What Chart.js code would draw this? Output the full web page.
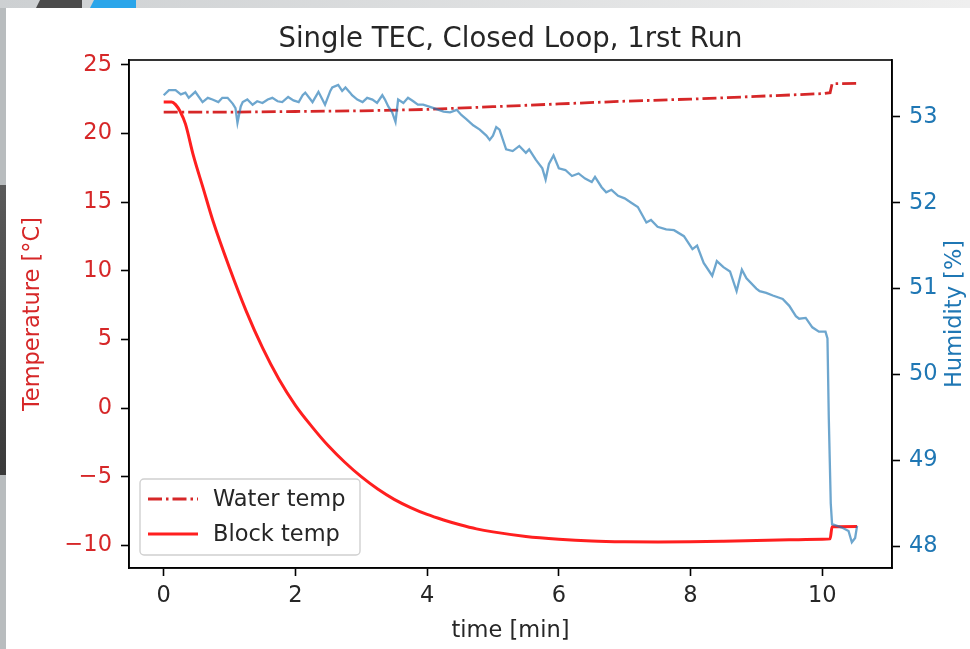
<!DOCTYPE html>
<html><head><meta charset="utf-8">
<script src="https://cdn.jsdelivr.net/npm/chart.js@4.4.0/dist/chart.umd.min.js"></script>
<style>
html,body{margin:0;padding:0;width:970px;height:649px;overflow:hidden;background:#d8dbdd;}
#top{position:absolute;left:0;top:0;width:970px;height:8px;background:linear-gradient(90deg,#cdd0d2,#efefef);}
#dk{position:absolute;left:36px;top:0;width:46px;height:8px;background:#4b4b4b;clip-path:polygon(4px 0,100% 0,100% 100%,0 100%);}
#bl{position:absolute;left:90px;top:0;width:46px;height:8px;background:#2aa5ea;clip-path:polygon(4px 0,100% 0,100% 100%,0 100%);}
#lf{position:absolute;left:0;top:8px;width:6px;height:641px;background:#b8bcbe;}
#ld{position:absolute;left:0;top:185px;width:6px;height:290px;background:linear-gradient(#5a5a5a,#3a3a3a);}
#card{position:absolute;left:6px;top:8px;width:964px;height:641px;background:#fff;}
canvas{position:absolute;left:0;top:0;}
</style></head>
<body>
<div id="top"></div><div id="dk"></div><div id="bl"></div><div id="lf"></div><div id="ld"></div><div id="card"></div>
<canvas id="c" width="970" height="649"></canvas>
<script>
// ---- data ----
const blockTime = [0,0.12,0.18,0.25,0.33,0.45,0.60,0.75,1.00,1.25,1.50,1.75,2.00,2.25,2.50,2.75,3.00,3.25,3.50,3.75,4.00,4.25,4.50,4.75,5.00,5.50,6.00,6.50,7.00,7.50,8.00,8.50,9.00,9.50,10.00,10.12,10.15,10.53];
const blockTemp = [22.3,22.3,22.1,21.6,20.7,18.4,16.0,13.6,10.2,7.1,4.4,2.1,0.2,-1.35,-2.75,-3.95,-5.0,-5.9,-6.65,-7.25,-7.75,-8.15,-8.5,-8.8,-9.02,-9.35,-9.55,-9.68,-9.74,-9.76,-9.74,-9.7,-9.65,-9.6,-9.56,-9.53,-8.65,-8.62];

const waterTime = [0,1,2,3,4,5,6,7,8,9,10,10.12,10.15,10.53];
const waterTemp = [21.55,21.55,21.6,21.65,21.75,21.95,22.15,22.35,22.5,22.7,22.9,22.97,23.62,23.65];

const humTime = [0,0.08,0.18,0.26,0.33,0.38,0.48,0.59,0.67,0.74,0.83,0.89,0.97,1.05,1.09,1.12,1.17,1.20,1.27,1.35,1.42,1.50,1.58,1.65,1.73,1.80,1.89,1.97,2.05,2.11,2.15,2.23,2.26,2.35,2.41,2.45,2.53,2.56,2.65,2.71,2.76,2.83,2.86,2.94,3.02,3.09,3.17,3.24,3.32,3.36,3.41,3.47,3.52,3.56,3.64,3.71,3.79,3.86,3.94,4.02,
 4.10,4.25,4.35,4.45,4.52,4.60,4.70,4.80,4.90,4.95,5.00,5.05,5.10,5.20,5.30,5.40,5.50,5.55,5.65,5.75,5.80,5.85,5.92,6.00,6.10,6.20,6.30,6.40,6.50,6.55,6.65,6.72,6.80,6.90,7.00,7.10,7.20,7.33,7.40,7.50,7.63,7.75,7.90,8.03,8.10,8.20,8.33,8.40,8.50,8.60,8.70,8.78,8.85,9.00,9.05,9.15,9.25,9.40,9.50,9.60,9.65,9.75,9.85,9.95,10.05,10.08,10.10,10.13,10.15,10.30,10.40,10.45,10.50,10.53];
const humidity = [53.25,53.31,53.31,53.26,53.28,53.22,53.29,53.17,53.22,53.20,53.17,53.22,53.22,53.15,53.10,52.93,53.12,53.17,53.20,53.14,53.18,53.16,53.20,53.22,53.18,53.17,53.23,53.19,53.17,53.25,53.28,53.20,53.17,53.29,53.20,53.14,53.30,53.34,53.37,53.30,53.34,53.28,53.25,53.20,53.17,53.22,53.20,53.16,53.25,53.20,53.12,53.05,52.94,53.20,53.16,53.22,53.18,53.14,53.14,53.12,
 53.10,53.06,53.05,53.08,53.02,52.97,52.90,52.85,52.78,52.73,52.78,52.88,52.85,52.62,52.60,52.66,52.58,52.62,52.50,52.40,52.27,52.45,52.55,52.40,52.38,52.31,52.34,52.28,52.24,52.30,52.18,52.12,52.15,52.08,52.05,52.00,51.95,51.77,51.80,51.72,51.69,51.68,51.61,51.46,51.50,51.30,51.15,51.32,51.25,51.20,50.97,51.22,51.12,51.00,50.97,50.95,50.92,50.88,50.80,50.68,50.65,50.66,50.55,50.50,50.50,50.42,49.50,48.50,48.26,48.22,48.18,48.05,48.10,48.24];

const xTicks = [0,2,4,6,8,10];
const tempTicks = [-10,-5,0,5,10,15,20,25];
const humTicks = [48,49,50,51,52,53];

const titleText = 'Single TEC, Closed Loop, 1rst Run';
const leftLabel = 'Temperature [\u00B0C]';
const rightLabel = 'Humidity [%]';

const pts = (xs, ys) => xs.map((x, i) => ({x: x, y: ys[i]}));
const fmt = v => String(v).replace('-', '\u2212');
const FONT = 'DejaVu Sans';
const TEMP_C = '#d62728', HUM_C = '#1f77b4', TXT = '#262626';

const framePlugin = {
  id: 'frame',
  afterDraw(chart) {
    const {ctx, chartArea: a} = chart;
    ctx.save();
    ctx.strokeStyle = '#000';
    ctx.lineWidth = 1.6;
    ctx.strokeRect(a.left, a.top, a.right - a.left, a.bottom - a.top);
    ctx.fillStyle = TXT;
    ctx.font = '27.5px "' + FONT + '"';
    ctx.textAlign = 'center';
    ctx.textBaseline = 'alphabetic';
    ctx.fillText(titleText, (a.left + a.right) / 2, a.top - 13);
    const cy = (a.top + a.bottom) / 2;
    ctx.font = '22.5px "' + FONT + '"';
    ctx.textBaseline = 'middle';
    ctx.save();
    ctx.translate(a.left - 96, cy);
    ctx.rotate(-Math.PI / 2);
    ctx.fillStyle = TEMP_C;
    ctx.fillText(leftLabel, 0, 0);
    ctx.restore();
    ctx.save();
    ctx.translate(a.right + 63, cy);
    ctx.rotate(-Math.PI / 2);
    ctx.fillStyle = HUM_C;
    ctx.fillText(rightLabel, 0, 0);
    ctx.restore();
    ctx.restore();
  }
};

const legendPlugin = {
  id: 'boxLegend',
  afterDraw(chart) {
    const {ctx, chartArea: a} = chart;
    const bx = a.left + 11, bw = 220, bh = 76, by = a.bottom - 13 - bh;
    ctx.save();
    ctx.beginPath();
    ctx.roundRect(bx, by, bw, bh, 4);
    ctx.fillStyle = 'rgba(255,255,255,0.85)';
    ctx.fill();
    ctx.strokeStyle = '#d0d0d0';
    ctx.lineWidth = 1.4;
    ctx.stroke();
    const rows = [
      {ds: chart.data.datasets[0], y: by + 20},
      {ds: chart.data.datasets[1], y: by + 55}
    ];
    rows.forEach(r => {
      ctx.beginPath();
      ctx.setLineDash(r.ds.borderDash || []);
      ctx.strokeStyle = r.ds.borderColor;
      ctx.lineWidth = r.ds.borderWidth;
      ctx.moveTo(bx + 8, r.y);
      ctx.lineTo(bx + 58, r.y);
      ctx.stroke();
      ctx.setLineDash([]);
      ctx.fillStyle = TXT;
      ctx.font = '22.5px "' + FONT + '"';
      ctx.textBaseline = 'middle';
      ctx.fillText(r.ds.label, bx + 73, r.y + 1);
    });
    ctx.restore();
  }
};

new Chart(document.getElementById('c'), {
  type: 'line',
  data: {
    datasets: [
      {label: 'Water temp', data: pts(waterTime, waterTemp), yAxisID: 'y', borderColor: TEMP_C,
       borderDash: [14, 4, 2.5, 4], borderWidth: 2.8, pointRadius: 0, tension: 0, order: 2},
      {label: 'Block temp', data: pts(blockTime, blockTemp), yAxisID: 'y', borderColor: '#ff1f1f',
       borderWidth: 3, pointRadius: 0, cubicInterpolationMode: 'monotone', order: 1},
      {label: 'Humidity', data: pts(humTime, humidity), yAxisID: 'y1', borderColor: 'rgba(31,119,180,0.65)',
       borderWidth: 2.3, pointRadius: 0, tension: 0, order: 0}
    ]
  },
  options: {
    responsive: false,
    animation: false,
    devicePixelRatio: 1,
    layout: {padding: {top: 60}},
    plugins: {
      legend: {display: false},
      tooltip: {enabled: false},
      title: {display: false}
    },
    scales: {
      x: {
        type: 'linear', min: -0.527, max: 11.06,
        afterBuildTicks: s => { s.ticks = xTicks.map(v => ({value: v})); },
        afterFit: s => { s.height = 81; },
        ticks: {color: TXT, font: {family: FONT, size: 22.5}, padding: 7, callback: v => fmt(v), maxRotation: 0, autoSkip: false},
        grid: {drawOnChartArea: false, drawTicks: true, tickLength: 8, tickWidth: 1.6, color: '#000'},
        border: {display: true, color: '#000', width: 1.6},
        title: {display: true, text: 'time [min]', color: TXT, font: {family: FONT, size: 22.5}, padding: {top: 4, bottom: 4}}
      },
      y: {
        type: 'linear', position: 'left', min: -11.65, max: 25.35,
        afterBuildTicks: s => { s.ticks = tempTicks.map(v => ({value: v})); },
        afterFit: s => { s.width = 129; },
        ticks: {color: TEMP_C, font: {family: FONT, size: 22.5}, padding: 9, callback: v => fmt(v), autoSkip: false},
        grid: {drawOnChartArea: false, drawTicks: true, tickLength: 8, tickWidth: 1.6, color: '#000'},
        border: {display: true, color: '#000', width: 1.6}
      },
      y1: {
        type: 'linear', position: 'right', min: 47.75, max: 53.66,
        afterBuildTicks: s => { s.ticks = humTicks.map(v => ({value: v})); },
        afterFit: s => { s.width = 78; },
        ticks: {color: HUM_C, font: {family: FONT, size: 22.5}, padding: 9, callback: v => fmt(v), autoSkip: false},
        grid: {drawOnChartArea: false, drawTicks: true, tickLength: 8, tickWidth: 1.6, color: '#000'},
        border: {display: true, color: '#000', width: 1.6}
      }
    }
  },
  plugins: [framePlugin, legendPlugin]
});
</script>
</body></html>
